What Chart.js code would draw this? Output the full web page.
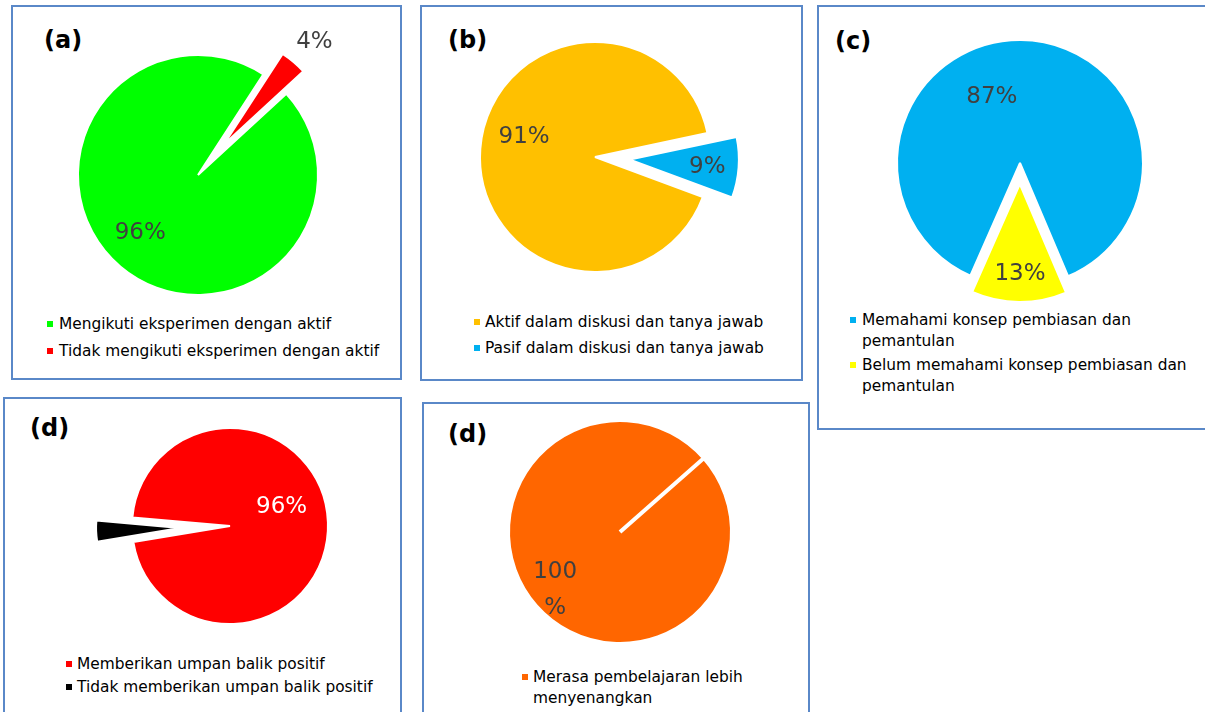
<!DOCTYPE html>
<html><head><meta charset="utf-8">
<script src="https://cdn.jsdelivr.net/npm/chart.js@4.4.1/dist/chart.umd.min.js"></script>
<style>
html,body{margin:0;padding:0;background:#fff;width:1205px;height:712px;overflow:hidden;position:relative;font-family:"DejaVu Sans",Verdana,sans-serif;}
.box{position:absolute;border:2px solid #5A88C8;box-sizing:border-box;}
.title{position:absolute;font-weight:bold;font-size:24px;line-height:24px;color:#000;white-space:nowrap;}
.leg{position:absolute;font-size:15.4px;line-height:21px;color:#000;white-space:nowrap;}
.mk{position:absolute;width:6px;height:6px;}
canvas{position:absolute;}
</style></head><body>
<script>
// ---- data ----
const titles = ['(a)', '(b)', '(c)', '(d)', '(d)'];
const catsA = ['Mengikuti eksperimen dengan aktif', 'Tidak mengikuti eksperimen dengan aktif'];
const valsA = [96, 4];
const catsB = ['Aktif dalam diskusi dan tanya jawab', 'Pasif dalam diskusi dan tanya jawab'];
const valsB = [91, 9];
const catsC = [['Memahami konsep pembiasan dan', 'pemantulan'], ['Belum memahami konsep pembiasan dan', 'pemantulan']];
const valsC = [87, 13];
const catsD1 = ['Memberikan umpan balik positif', 'Tidak memberikan umpan balik positif'];
const valsD1 = [96, 4];
const catsD2 = [['Merasa pembelajaran lebih', 'menyenangkan']];
const valsD2 = [100];

// ---- layout / style ----
const panels = [
  { title: titles[0], cats: catsA, vals: valsA, colors: ['#00FF00', '#FF0000'],
    box: [11, 5, 391, 375], titlePos: [44, 28],
    cx: 198, cy: 175, size: 360, radius: 120, rotation: 47.4, offset: [0, 160], vis: [null, 108], bw: 2,
    labels: [{ d: 0.68, s: 4.8 }, { d: 1.47, s: 1.1 }],
    legend: { x: 47, tx: 59, ys: [324, 351] } },
  { title: titles[1], cats: catsB, vals: valsB, colors: ['#FFC000', '#00B0F0'],
    box: [420, 5, 383, 376], titlePos: [448, 28],
    cx: 595, cy: 157, size: 340, radius: 115, rotation: 110.4, offset: [0, 140], vis: [null, 109], bw: 2,
    labels: [{ d: 0.64, s: 11.5 }, { d: 0.98, s: 0.8 }],
    legend: { x: 474, tx: 485, ys: [322, 348] } },
  { title: titles[2], cats: catsC, vals: valsC, colors: ['#00B0F0', '#FFFF00'],
    box: [817, 5, 400, 425], titlePos: [835, 29],
    cx: 1020, cy: 163, size: 320, radius: 123, rotation: 203.8, offset: [0, 84], vis: [null, 118], bw: 2,
    labels: [{ d: 0.585, s: -23.4 }, { d: 0.9, s: -0.4 }],
    legend: { x: 850, tx: 862, ys: [320, 365] } },
  { title: titles[3], cats: catsD1, vals: valsD1, colors: ['#FF0000', '#000000'],
    box: [3, 397, 399, 330], titlePos: [30, 416],
    cx: 230, cy: 526, size: 360, radius: 98, rotation: 275, offset: [0, 200], vis: [null, 84], bw: 2,
    labels: [{ d: 0.56, s: -17.8, c: '#FFFFFF' }, null],
    legend: { x: 66, tx: 77, ys: [664, 687] } },
  { title: titles[4], cats: catsD2, vals: valsD2, colors: ['#FF6600'],
    box: [422, 402, 388, 330], titlePos: [448, 422],
    cx: 620, cy: 532, size: 280, radius: 112, rotation: 48.6, offset: [0], vis: [null], bw: 4,
    labels: [{ d: 0.78, s: -0.6, wrap: true }],
    legend: { x: 522, tx: 533, ys: [677] } }
];

const sliceLabels = {
  id: 'sliceLabels',
  afterDatasetsDraw(chart, args, opts) {
    const meta = chart.getDatasetMeta(0);
    const ctx = chart.ctx;
    ctx.save();
    ctx.font = '23px "DejaVu Sans"';
    ctx.textAlign = 'center';
    ctx.textBaseline = 'middle';
    meta.data.forEach((el, i) => {
      const L = opts.items[i];
      if (!L) return;
      const mid = (el.startAngle + el.endAngle) / 2 + L.s * Math.PI / 180;
      const r = L.d * opts.radius;
      const x = el.x + Math.cos(mid) * r;
      const y = el.y + Math.sin(mid) * r;
      const v = chart.data.datasets[0].data[i];
      const lines = L.wrap ? [String(v), '%'] : [v + '%'];
      ctx.fillStyle = L.c || '#404040';
      lines.forEach((t, k) => ctx.fillText(t, x, y + (k - (lines.length - 1) / 2) * 36));
    });
    ctx.restore();
  }
};

// Exploded slice: set its visible radius and undo the library's arc-shortening
const sliceRadius = {
  id: 'sliceRadius',
  afterDatasetsUpdate(chart, args, opts) {
    const meta = chart.getDatasetMeta(0);
    (opts.vis || []).forEach((R, i) => {
      const el = meta.data[i];
      if (R == null || !el) return;
      const T = (opts.offs[i] || 0) / 4;
      const circ = el.endAngle - el.startAngle;
      const ro = T * (1 - Math.sin(Math.min(Math.PI, circ)));
      el.outerRadius = R - ro;
      const comp = (ro / Math.PI) / R;
      el.startAngle -= comp / 2;
      el.endAngle += comp / 2;
    });
  }
};

panels.forEach(p => {
  const b = document.createElement('div');
  b.className = 'box';
  Object.assign(b.style, { left: p.box[0] + 'px', top: p.box[1] + 'px', width: p.box[2] + 'px', height: p.box[3] + 'px' });
  document.body.appendChild(b);

  const t = document.createElement('div');
  t.className = 'title';
  t.textContent = p.title;
  t.style.left = p.titlePos[0] + 'px';
  t.style.top = p.titlePos[1] + 'px';
  document.body.appendChild(t);

  p.cats.forEach((c, i) => {
    const m = document.createElement('div');
    m.className = 'mk';
    m.style.left = p.legend.x + 'px';
    m.style.top = (p.legend.ys[i] - 3) + 'px';
    m.style.background = p.colors[i];
    document.body.appendChild(m);
    const l = document.createElement('div');
    l.className = 'leg';
    l.style.left = p.legend.tx + 'px';
    l.style.top = (p.legend.ys[i] - 10) + 'px';
    l.innerHTML = (Array.isArray(c) ? c : [c]).join('<br>');
    document.body.appendChild(l);
  });
});

panels.forEach(p => {
  const cv = document.createElement('canvas');
  cv.width = p.size; cv.height = p.size;
  cv.style.left = (p.cx - p.size / 2) + 'px';
  cv.style.top = (p.cy - p.size / 2) + 'px';
  cv.style.width = p.size + 'px'; cv.style.height = p.size + 'px';
  document.body.appendChild(cv);
  new Chart(cv, {
    type: 'pie',
    data: {
      labels: p.cats,
      datasets: [{ data: p.vals, backgroundColor: p.colors, borderColor: '#FFFFFF', borderWidth: p.bw,
        offset: p.offset, hoverOffset: 0 }]
    },
    options: {
      responsive: false, animation: false, events: [],
      radius: p.radius, rotation: p.rotation,
      layout: { padding: 0 },
      plugins: {
        legend: { display: false }, tooltip: { enabled: false },
        sliceLabels: { items: p.labels, radius: p.radius },
        sliceRadius: { vis: p.vis, offs: p.offset }
      }
    },
    plugins: [sliceLabels, sliceRadius]
  });
});
</script>
</body></html>
